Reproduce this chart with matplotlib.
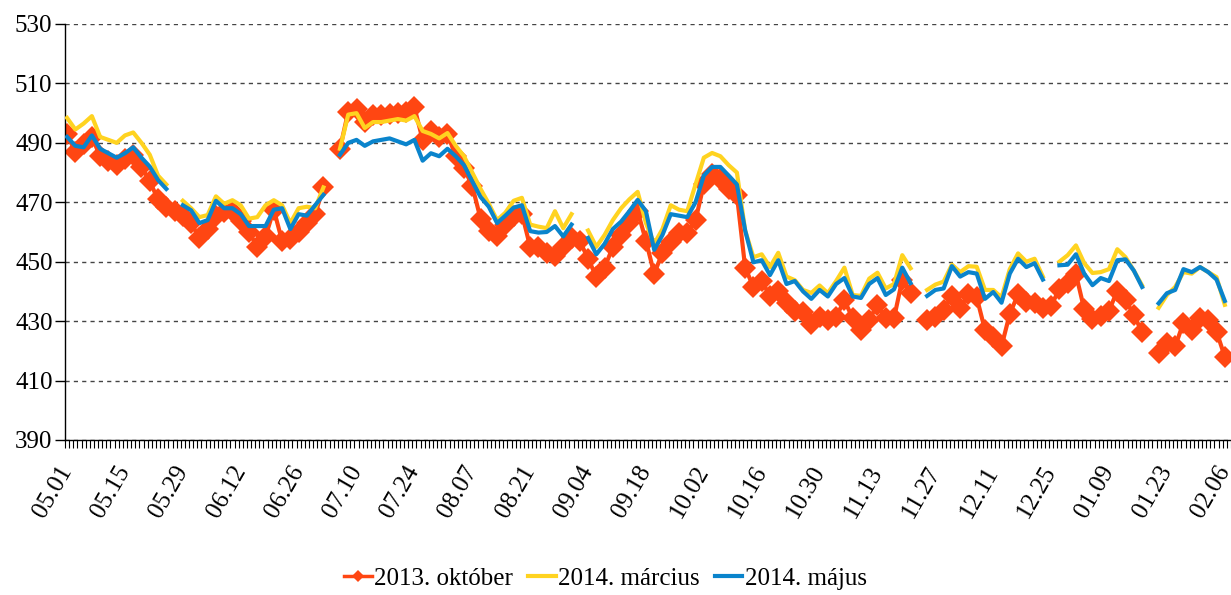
import numpy as np
import pandas as pd
import matplotlib
matplotlib.use("Agg")
from matplotlib import pyplot as plt
from matplotlib.lines import Line2D
from matplotlib.transforms import ScaledTranslation

# daily categories (1 January missing from the source table)
days = pd.date_range("2013-05-01", "2014-02-07")
days = days[days != pd.Timestamp("2014-01-01")]
sample_dates = days[::2]
tick_dates = days[::14]

oct2013 = [
    493, 487, 489.5, 492, 485.5, 484, 482.5,
    484.5, 486, 482, 477, 471, 468.5, 467,
    465.5, 463, 458, 461, 465.5, 466.8, 467,
    463.8, 460, 455, 458.5, 467.5, 457, 457.5,
    460, 463, 466, 475, None, 488, 500.5,
    501.5, 497, 499.4, 499.4, 499.7, 500, 500.4,
    502, 491, 494, 492, 493, 485.5, 481.5,
    475.5, 464.5, 460.5, 458.5, 462.5, 465.3, 466.2,
    455, 455, 453, 452, 455, 458, 457,
    451, 445, 448, 455, 459, 463, 467,
    457, 446, 453, 456.5, 459.6, 459.6, 464,
    476, 479.5, 478, 474.5, 472.5, 448, 441.5,
    443.5, 438.5, 440, 436, 433.5, 433, 429,
    431.5, 430.5, 431.5, 437, 431, 427, 430.5,
    435.5, 431, 431, 444, 439.5, None, 430.5,
    431.3, 433.8, 438.5, 434.5, 439, 438, 427,
    424.5, 421.5, 432.5, 439, 436.5, 436, 434.5,
    435.2, 440.8, 443, 445.8, 434, 430.8, 431.8,
    433.5, 440.2, 437, 432.2, 426.2, None, 419.3,
    422.5, 421.5, 429.5, 427, 431, 430.5, 426.5,
    418,
]

mar2014 = [
    498.4, 494.5, 496.5, 499, 492, 491, 490,
    492.5, 493.5, 490, 486, 479, 476, None,
    470.5, 468, 465, 465.7, 472, 469.5, 470.7,
    469, 464.5, 465, 469, 470.7, 469, 463,
    468, 468.5, 468, 475, None, 488, 499.5,
    500, 495, 497, 497, 497.5, 498, 497.5,
    499, 494, 493, 491.5, 493.3, 489, 485.5,
    480, 474.5, 469.5, 464, 466.5, 470.5, 471.5,
    462.5, 461.8, 461.3, 467, 461.3, 466, None,
    460.5, 455, 459, 464, 468, 471, 473.5,
    463, 456, 461, 469, 467.5, 467, 476,
    485, 486.6, 485.5, 482.5, 480, 460.5, 451.5,
    452.5, 448.2, 453, 445, 443.8, 440.5, 439.5,
    442, 439.4, 443.5, 448, 438.8, 438.5, 444.3,
    446.3, 441, 442.5, 452.2, 447.8, None, 440.5,
    442.3, 443.3, 449, 446.5, 448.5, 448.3, 440.5,
    440.5, 438, 447.5, 452.8, 450, 451, 445,
    None, 450, 452.2, 455.5, 449.5, 446.2, 446.5,
    447.5, 454.2, 451.5, 447, 442, None, 434.5,
    438.8, 441.5, 446.5, 446, 448.2, 446.5, 444.8,
    435.5,
]

may2014 = [
    492, 489, 488.5, 492.5, 488, 486.5, 485,
    486.5, 488.5, 485, 482, 477.5, 474.5, None,
    469, 467.3, 463, 464, 470.5, 468, 468,
    466, 462, 462, 462, 467.5, 468, 461,
    466, 465.5, 469, 472.5, None, 486, 490,
    491, 489, 490.5, 491, 491.5, 490.5, 489.5,
    491, 484, 486.5, 485.5, 488, 485.5, 482.5,
    477, 471.8, 468.5, 463, 465.5, 468.2, 469,
    460.3, 459.8, 460, 462, 458.5, 462.5, None,
    458, 452.5, 456, 461, 463.5, 467, 470.8,
    467, 454, 459, 466, 465.5, 465, 470,
    479, 481.9, 481.9, 479, 476, 460.5, 449.8,
    450.5, 445.5, 450.5, 442.5, 443.5, 440, 437.5,
    440.5, 438.3, 442.5, 444.5, 438.3, 437.8, 442.5,
    444.5, 438.8, 440.7, 448, 442.8, None, 438.5,
    440.5, 441, 448.5, 445, 446.5, 446, 437.5,
    439.8, 436.2, 446, 451, 448.2, 449.5, 444,
    None, 448.8, 449, 452.5, 446, 442.1, 444.5,
    443.5, 450.5, 450.8, 447, 441.5, None, 436,
    439.4, 440.5, 447.5, 446.5, 448.2, 446.5, 444,
    436.8,
]

series_names = ["2013. október", "2014. március", "2014. május"]
colors = ["#FF4612", "#FFD320", "#0A84CC"]

plt.rcParams["font.family"] = ["Liberation Serif", "DejaVu Serif"]
FS = 18

fig = plt.figure(figsize=(12.31, 5.95), dpi=100)
ax = fig.add_axes([65 / 1231, 1 - 440 / 595, 1166 / 1231, 416 / 595])

x = days.get_indexer(sample_dates)


def arr(v):
    return np.array([np.nan if a is None else a for a in v], dtype=float)


ax.plot(x, arr(oct2013), color=colors[0], lw=3, marker="D", ms=11,
        mew=0, zorder=2)
ax.plot(x, arr(mar2014), color=colors[1], lw=3, zorder=3)
ax.plot(x, arr(may2014), color=colors[2], lw=3, zorder=4)

ax.set_ylim(390, 530)
ax.set_yticks(np.arange(390, 531, 20))
ax.set_xlim(-0.5, len(days) - 0.5)
ax.set_xticks(days.get_indexer(tick_dates))
ax.set_xticklabels([d.strftime("%m.%d") for d in tick_dates], rotation=60,
                   ha="right", va="center", rotation_mode="anchor")
labels = ax.get_xticklabels()
for i, lab in enumerate(labels):
    dx = -4 if i < len(labels) - 1 else -7
    lab.set_transform(lab.get_transform()
                      + ScaledTranslation(dx / 72, 0, fig.dpi_scale_trans))
ax.set_xticks(np.arange(-0.5, len(days), 1), minor=True)
ax.tick_params(axis="x", which="major", length=0, pad=20, labelsize=FS)
ax.tick_params(axis="x", which="minor", length=6, width=0.8, direction="out")
ax.tick_params(axis="y", length=7, width=1, direction="out", labelsize=FS, pad=2)

ax.yaxis.grid(True, linestyle=(0, (3, 3)), color="#444444", lw=1)
ax.set_axisbelow(True)
for s in ["top", "right"]:
    ax.spines[s].set_visible(False)
ax.spines["left"].set_linewidth(1)
ax.spines["bottom"].set_linewidth(1)

handles = [
    Line2D([], [], color=colors[0], lw=2.5, marker="D", ms=6, mew=0),
    Line2D([], [], color=colors[1], lw=3),
    Line2D([], [], color=colors[2], lw=3),
]
fig.legend(handles, series_names, loc="center", bbox_to_anchor=(0.492, 0.027),
           ncol=3, frameon=False, fontsize=FS, handlelength=1.1,
           handletextpad=0.1, columnspacing=0.6)

fig.savefig("out.png", dpi=100)
